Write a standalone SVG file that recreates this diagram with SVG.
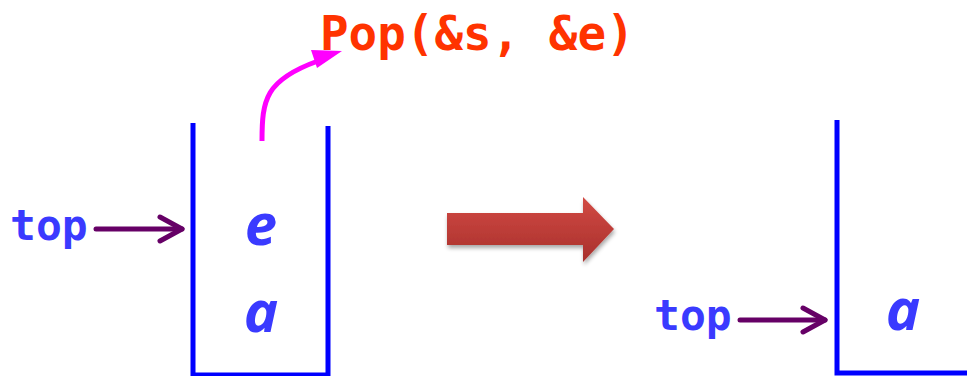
<svg xmlns="http://www.w3.org/2000/svg" width="967" height="376" viewBox="0 0 967 376">
<style>
.wall{stroke:#0000ff;stroke-width:5;fill:none}
.lbl{font-family:"DejaVu Sans Mono",monospace;font-weight:bold;fill:#3a3aff}
.item{font-family:"Open Sans","Noto Sans",sans-serif;font-weight:bold;font-style:italic;fill:#3a3aff;text-anchor:middle}
.ptr{stroke:#660066;stroke-width:5;fill:none;stroke-linecap:round}
.head{stroke:#660066;stroke-width:5;fill:none;stroke-linecap:round;stroke-linejoin:round}
</style>
<defs>
<linearGradient id="rg" x1="0" y1="0" x2="0" y2="1">
<stop offset="0" stop-color="#d24a44"/>
<stop offset="1" stop-color="#a8302c"/>
</linearGradient>
<filter id="sh" x="-10%" y="-20%" width="130%" height="150%">
<feGaussianBlur in="SourceAlpha" stdDeviation="2"/>
<feOffset dx="1" dy="3" result="b"/>
<feComponentTransfer><feFuncA type="linear" slope="0.35"/></feComponentTransfer>
<feMerge><feMergeNode/><feMergeNode in="SourceGraphic"/></feMerge>
</filter>
</defs>
<g id="stack-before">
<path class="wall" d="M193,123 V375 H328 V126"/>
<text class="item" x="261" y="245" font-size="58">e</text>
<text class="item" x="261" y="332" font-size="58">a</text>
</g>
<g id="top-before">
<text class="lbl" x="10" y="240" font-size="43">top</text>
</g>
<g id="pop-label">
<text x="320" y="50" font-family="DejaVu Sans Mono, monospace" font-weight="bold" font-size="47.5" fill="#ff3300">Pop(&amp;s, &amp;e)</text>
</g>
<g id="transition">
<path d="M447,213 H583 V197 L614,229 L583,262 V245 H447 Z" fill="url(#rg)" filter="url(#sh)"/>
</g>
<g id="stack-after">
<path class="wall" d="M837,120 V373 H967"/>
<text class="item" x="903" y="330" font-size="58">a</text>
</g>
<g id="top-after">
<text class="lbl" x="654" y="330" font-size="43">top</text>
</g>
<g id="connectors">
<path class="ptr" d="M96,229 H182"/>
<path class="head" d="M160,217 L182,229 L160,241"/>
<path class="ptr" d="M740,320 H825"/>
<path class="head" d="M803,308 L825,320 L803,332"/>
<path d="M262,141 C262,100 265,80 318,61" stroke="#ff00ff" stroke-width="5" fill="none"/>
<polygon points="311,50 342,51 317,68" fill="#ff00ff"/>
</g>
</svg>
